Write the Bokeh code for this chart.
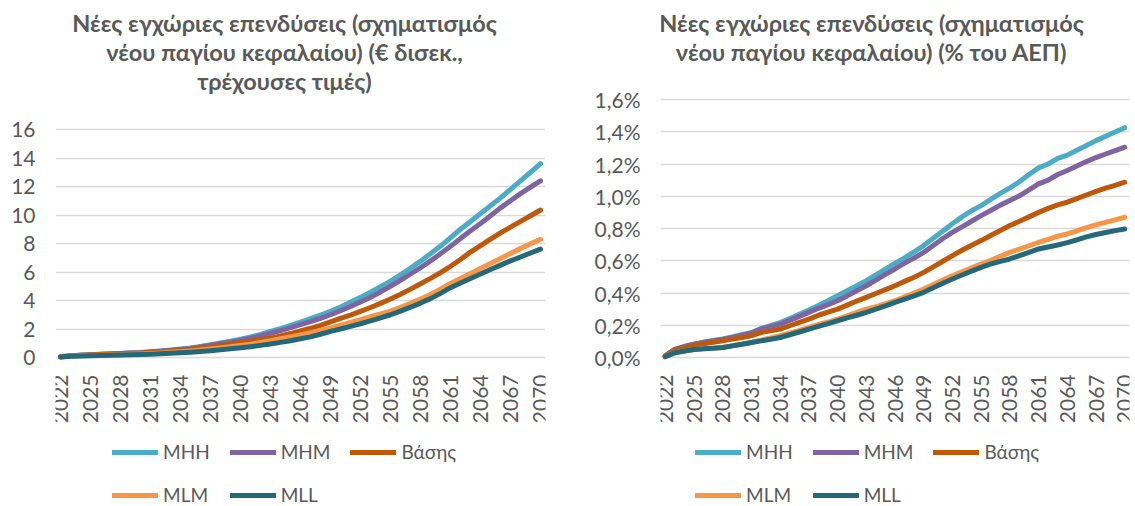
import math
from bokeh.plotting import figure
from bokeh.models import (Range1d, FixedTicker, CustomJSTickFormatter, Label, Legend,
                          LegendItem, ColumnDataSource)
from bokeh.core.properties import value
from bokeh.layouts import row
from bokeh.embed import file_html
from bokeh.resources import INLINE

years = list(range(2022, 2071))
tick_years = list(range(2022, 2071, 3))
tick_labels = [str(y) for y in tick_years]
series_names = ["MHH", "MHM", "Βάσης", "MLM", "MLL"]
colors = ["#4BACC6", "#8064A2", "#C0580A", "#F79646", "#23697A"]

left_title = ["Νέες εγχώριες επενδύσεις (σχηματισμός", "νέου παγίου κεφαλαίου) (€ δισεκ.,", "τρέχουσες τιμές)"]
right_title = ["Νέες εγχώριες επενδύσεις (σχηματισμός", "νέου παγίου κεφαλαίου) (% του ΑΕΠ)"]

left_ticks = [0, 2, 4, 6, 8, 10, 12, 14, 16]
right_ticks = [0.0, 0.2, 0.4, 0.6, 0.8, 1.0, 1.2, 1.4, 1.6]

# € bn, current prices
eur_mhh = [0.05, 0.12, 0.16, 0.19, 0.22, 0.25, 0.28, 0.31, 0.35, 0.40,
           0.46, 0.52, 0.59, 0.67, 0.78, 0.90, 1.02, 1.15, 1.29, 1.44,
           1.62, 1.83, 2.03, 2.25, 2.48, 2.72, 2.97, 3.24, 3.55, 3.88,
           4.22, 4.58, 4.96, 5.36, 5.80, 6.27, 6.76, 7.28, 7.82, 8.40,
           9.00, 9.55, 10.10, 10.65, 11.20, 11.80, 12.40, 13.00, 13.60]
eur_mhm = [0.05, 0.12, 0.16, 0.19, 0.22, 0.25, 0.28, 0.31, 0.34, 0.39,
           0.44, 0.50, 0.57, 0.64, 0.74, 0.85, 0.96, 1.08, 1.21, 1.35,
           1.51, 1.70, 1.89, 2.09, 2.30, 2.52, 2.75, 3.00, 3.28, 3.58,
           3.90, 4.23, 4.60, 5.00, 5.42, 5.86, 6.31, 6.78, 7.28, 7.80,
           8.35, 8.90, 9.40, 9.95, 10.50, 11.00, 11.50, 11.95, 12.40]
eur_base = [0.05, 0.11, 0.15, 0.18, 0.21, 0.24, 0.26, 0.29, 0.32, 0.36,
            0.41, 0.46, 0.52, 0.58, 0.66, 0.75, 0.84, 0.94, 1.05, 1.16,
            1.25, 1.36, 1.52, 1.68, 1.86, 2.05, 2.26, 2.50, 2.74, 2.98,
            3.24, 3.51, 3.80, 4.10, 4.44, 4.80, 5.17, 5.55, 5.96, 6.40,
            6.88, 7.40, 7.85, 8.30, 8.75, 9.15, 9.55, 9.95, 10.35]
eur_mlm = [0.04, 0.09, 0.12, 0.14, 0.16, 0.18, 0.20, 0.22, 0.25, 0.28,
           0.32, 0.36, 0.41, 0.46, 0.52, 0.59, 0.67, 0.75, 0.84, 0.94,
           1.06, 1.18, 1.31, 1.45, 1.59, 1.74, 1.90, 2.07, 2.26, 2.46,
           2.66, 2.86, 3.05, 3.25, 3.52, 3.80, 4.10, 4.42, 4.80, 5.20,
           5.55, 5.90, 6.25, 6.60, 6.95, 7.30, 7.65, 7.98, 8.30]
eur_mll = [0.04, 0.08, 0.10, 0.12, 0.14, 0.16, 0.18, 0.20, 0.21, 0.23,
           0.26, 0.29, 0.33, 0.37, 0.42, 0.48, 0.54, 0.61, 0.68, 0.76,
           0.85, 0.95, 1.06, 1.18, 1.31, 1.45, 1.63, 1.83, 2.00, 2.18,
           2.37, 2.57, 2.78, 3.00, 3.26, 3.53, 3.82, 4.13, 4.50, 4.90,
           5.23, 5.55, 5.86, 6.17, 6.48, 6.78, 7.05, 7.33, 7.60]

# % of GDP
gdp_mhh = [0.010, 0.050, 0.068, 0.083, 0.095, 0.105, 0.115, 0.128, 0.141, 0.155,
           0.180, 0.198, 0.217, 0.242, 0.268, 0.294, 0.323, 0.352, 0.383, 0.414,
           0.445, 0.476, 0.512, 0.548, 0.584, 0.618, 0.655, 0.694, 0.740, 0.785,
           0.829, 0.872, 0.910, 0.942, 0.980, 1.018, 1.052, 1.090, 1.135, 1.176,
           1.200, 1.235, 1.255, 1.285, 1.315, 1.345, 1.372, 1.398, 1.425]
gdp_mhm = [0.010, 0.050, 0.068, 0.083, 0.094, 0.103, 0.112, 0.125, 0.138, 0.152,
           0.176, 0.192, 0.207, 0.230, 0.255, 0.280, 0.305, 0.328, 0.352, 0.382,
           0.414, 0.445, 0.480, 0.515, 0.549, 0.585, 0.617, 0.652, 0.695, 0.738,
           0.776, 0.810, 0.845, 0.880, 0.912, 0.945, 0.973, 1.003, 1.040, 1.077,
           1.100, 1.135, 1.160, 1.188, 1.215, 1.240, 1.262, 1.283, 1.304]
gdp_base = [0.010, 0.045, 0.060, 0.075, 0.085, 0.094, 0.104, 0.114, 0.124, 0.135,
            0.155, 0.165, 0.176, 0.197, 0.218, 0.238, 0.262, 0.281, 0.300, 0.325,
            0.350, 0.373, 0.397, 0.421, 0.445, 0.472, 0.498, 0.528, 0.562, 0.597,
            0.632, 0.665, 0.696, 0.725, 0.757, 0.788, 0.818, 0.845, 0.872, 0.900,
            0.925, 0.947, 0.963, 0.985, 1.008, 1.030, 1.050, 1.068, 1.087]
gdp_mlm = [0.005, 0.030, 0.040, 0.050, 0.054, 0.058, 0.062, 0.072, 0.082, 0.093,
           0.108, 0.121, 0.135, 0.151, 0.168, 0.186, 0.205, 0.220, 0.238, 0.258,
           0.280, 0.300, 0.315, 0.333, 0.352, 0.376, 0.400, 0.425, 0.452, 0.480,
           0.507, 0.532, 0.556, 0.580, 0.603, 0.628, 0.652, 0.672, 0.693, 0.714,
           0.732, 0.752, 0.766, 0.785, 0.805, 0.822, 0.838, 0.854, 0.870]
gdp_mll = [0.005, 0.030, 0.040, 0.050, 0.054, 0.058, 0.062, 0.072, 0.082, 0.093,
           0.103, 0.113, 0.124, 0.141, 0.158, 0.176, 0.193, 0.210, 0.228, 0.246,
           0.262, 0.280, 0.300, 0.320, 0.342, 0.362, 0.382, 0.404, 0.432, 0.460,
           0.487, 0.512, 0.536, 0.559, 0.580, 0.596, 0.611, 0.632, 0.652, 0.673,
           0.685, 0.698, 0.712, 0.730, 0.748, 0.763, 0.775, 0.787, 0.797]

eur_series = [eur_mhh, eur_mhm, eur_base, eur_mlm, eur_mll]
gdp_series = [gdp_mhh, gdp_mhm, gdp_base, gdp_mlm, gdp_mll]

FONT = "Lato"
TXT = "#595959"
GRID = "#D9D9D9"
H = 506


def make_chart(width, bl, br, top_px, zero_px, y_top, yticks, series,
               title_lines, title_cx, legend_x, formatter=None):
    # The frame spans the full figure height: the title sits above the top
    # gridline, the year labels and the legend below the zero line.
    px_per_unit = (zero_px - top_px) / y_top
    y_end = y_top + top_px / px_per_unit
    y_start = -(H - zero_px) / px_per_unit
    p = figure(width=width, height=H, output_backend="svg", toolbar_location=None,
               x_range=Range1d(2021.5, 2070.5), y_range=Range1d(y_start, y_end),
               min_border_left=bl, min_border_right=br, min_border_top=0,
               min_border_bottom=0, outline_line_color=None,
               background_fill_color="white", border_fill_color="white")
    p.xaxis.visible = False
    p.xgrid.visible = False
    p.ygrid.grid_line_color = GRID
    p.ygrid.grid_line_width = 1.6
    p.yaxis.ticker = FixedTicker(ticks=yticks)
    if formatter is not None:
        p.yaxis.formatter = formatter
    ax = p.yaxis[0]
    ax.axis_line_color = None
    ax.major_tick_line_color = None
    ax.minor_tick_line_color = None
    ax.major_tick_out = 0
    ax.major_tick_in = 0
    ax.major_label_text_font = FONT
    ax.major_label_text_font_size = "21px"
    ax.major_label_text_color = TXT
    ax.major_label_standoff = 20

    # category (year) labels under the zero line, rotated like the original
    label_y = -17 / px_per_unit
    src = ColumnDataSource(dict(x=tick_years, y=[label_y] * len(tick_years), t=tick_labels))
    p.text(x="x", y="y", text="t", source=src, angle=math.pi / 2,
           text_align="right", text_baseline="middle", text_font=value(FONT),
           text_font_size="21px", text_color=TXT)

    items = []
    for name, col, vals in zip(series_names, colors, series):
        r = p.line(years, vals, line_color=col, line_width=5, line_cap="round",
                   line_join="round")
        items.append(LegendItem(label=name, renderers=[r]))

    for i, t in enumerate(title_lines):
        p.add_layout(Label(x=title_cx, y=H - 22 - 29 * i,
                           x_units="screen", y_units="screen",
                           text=t, text_font=FONT, text_font_style="bold",
                           text_font_size="23.5px", text_color=TXT,
                           text_align="center", text_baseline="middle"))

    leg = Legend(items=items, orientation="horizontal", ncols=3,
                 location=(legend_x, 0), glyph_width=46, glyph_height=20,
                 label_height=20, label_width=44, label_standoff=5, spacing=20,
                 padding=0, margin=0, border_line_color=None,
                 background_fill_alpha=0, label_text_font=FONT,
                 label_text_font_size="19px", label_text_color=TXT)
    p.add_layout(leg, "center")
    return p


pct_fmt = CustomJSTickFormatter(code="return tick.toFixed(1).replace('.', ',') + '%';")

left = make_chart(570, 55, 25, 129, 357, 16, left_ticks, eur_series, left_title,
                  284 - 55, 112 - 55)
right = make_chart(565, 90, 6, 99, 357, 1.6, right_ticks, gdp_series, right_title,
                   871 - 660, 695 - 660, formatter=pct_fmt)

layout = row(left, right)
open("out.html", "w").write(file_html(layout, INLINE))
